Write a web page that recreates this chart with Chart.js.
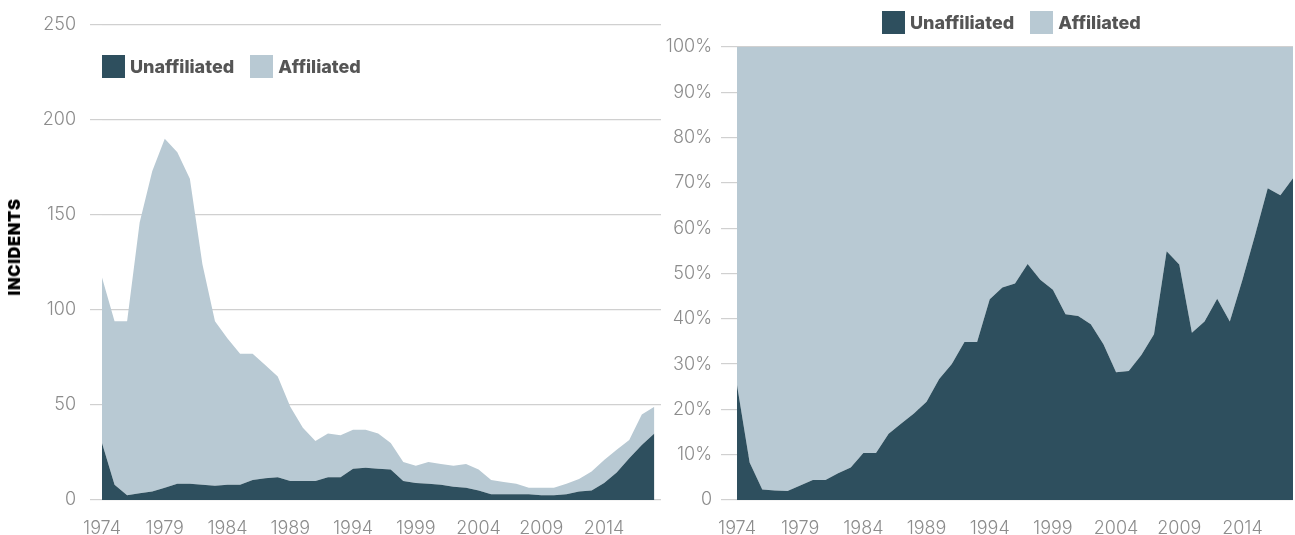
<!DOCTYPE html>
<html lang="en">
<head>
  <title>Incidents by affiliation</title>
  <script src="https://cdn.jsdelivr.net/npm/chart.js"></script>
  <style>
    body { margin: 0; background: #fff; width: 1295px; height: 535px; position: relative; overflow: hidden; }
    canvas { position: absolute; top: 0; }
    .legend { position: absolute; display: flex; align-items: center; font: 800 18px Inter, sans-serif; color: #555; }
    .legend .sw { display: inline-block; width: 23px; height: 23px; margin-right: 5px; }
    .legend .item { display: flex; align-items: center; margin-right: 16px; }
    #ytitle { position: absolute; left: 14px; top: 247px; transform: translate(-50%, -50%) rotate(-90deg);
      font: 900 16.5px Inter, sans-serif; color: #000; letter-spacing: 0.6px; white-space: nowrap; }
  </style>
</head>
<body>
  <canvas id="counts" width="670" height="535" style="left:0"></canvas>
  <canvas id="shares" width="635" height="535" style="left:660px"></canvas>

  <div id="ytitle">INCIDENTS</div>
  <div class="legend" style="left:102px; top:55px">
    <span class="item"><span class="sw" style="background:#2E4F5E"></span>Unaffiliated</span>
    <span class="item"><span class="sw" style="background:#B8C9D3"></span>Affiliated</span>
  </div>
  <div class="legend" style="left:882px; top:11px">
    <span class="item"><span class="sw" style="background:#2E4F5E"></span>Unaffiliated</span>
    <span class="item"><span class="sw" style="background:#B8C9D3"></span>Affiliated</span>
  </div>

  <script>
    const years = [];
    for (let y = 1974; y <= 2018; y++) years.push(y);
    const yearTicks = [1974, 1979, 1984, 1989, 1994, 1999, 2004, 2009, 2014];

    // incident counts per year
    const unaffiliated = [30, 8, 2.5, 3.5, 4.5, 6.5, 8.5, 8.5, 8, 7.5, 8, 8, 10.5, 11.5, 12, 10, 10, 10, 12, 12,
      16.5, 17, 16.5, 16, 10, 9, 8.5, 8, 7, 6.5, 5, 3, 3, 3, 3, 2.5, 2.5, 3, 4.5, 5, 9, 14.5, 22, 29, 35];
    const affiliated = [87, 86, 91.5, 142.5, 168.5, 183.5, 174.5, 160.5, 116, 86.5, 77, 69, 66.5, 59.5, 53, 39, 28, 21, 23, 22,
      20.5, 20, 18.5, 14, 10, 9, 11.5, 11, 11, 12.5, 11, 7.5, 6.5, 5.5, 3.5, 4, 4, 5.5, 6.5, 10, 12, 12, 9.5, 16, 14];

    // share of incidents per year, percent
    const unaffiliatedShare = [25.4, 8.3, 2.3, 2.1, 2.0, 3.2, 4.4, 4.4, 5.9, 7.2, 10.4, 10.4, 14.6, 16.9, 19.1, 21.7, 26.7, 30.0, 34.9, 34.9,
      44.3, 46.9, 47.8, 52.1, 48.6, 46.4, 41.0, 40.6, 38.8, 34.4, 28.2, 28.5, 32.0, 36.6, 54.9, 52.0, 36.9, 39.4, 44.4, 39.4,
      48.6, 58.5, 68.8, 67.3, 71.0];
    const affiliatedShare = [74.6, 91.7, 97.7, 97.9, 98.0, 96.8, 95.6, 95.6, 94.1, 92.8, 89.6, 89.6, 85.4, 83.1, 80.9, 78.3, 73.3, 70.0, 65.1, 65.1,
      55.7, 53.1, 52.2, 47.9, 51.4, 53.6, 59.0, 59.4, 61.2, 65.6, 71.8, 71.5, 68.0, 63.4, 45.1, 48.0, 63.1, 60.6, 55.6, 60.6,
      51.4, 41.5, 31.2, 32.7, 29.0];

    const DARK = '#2E4F5E';
    const LIGHT = '#B8C9D3';
    const GRID = '#d0d0d0';
    const tickFont = { family: 'Inter', size: 18, weight: 300 };

    function points(vals) {
      return years.map((y, i) => ({ x: y, y: vals[i] }));
    }

    function area(label, vals, color, fill) {
      return {
        label: label,
        data: points(vals),
        backgroundColor: color,
        borderWidth: 0,
        pointRadius: 0,
        tension: 0,
        fill: fill
      };
    }

    function xAxis(max) {
      return {
        type: 'linear',
        min: 1974,
        max: max,
        grid: { display: false, drawTicks: false },
        border: { display: false },
        afterBuildTicks: s => { s.ticks = yearTicks.map(v => ({ value: v })); },
        afterFit: s => { s.height = 35; },
        ticks: { color: '#8c8c8c', font: tickFont, padding: 18, maxRotation: 0, autoSkip: false,
          callback: v => String(v) }
      };
    }

    new Chart(document.getElementById('counts'), {
      type: 'line',
      data: {
        datasets: [
          area('Unaffiliated', unaffiliated, DARK, 'origin'),
          area('Affiliated', affiliated, LIGHT, '-1')
        ]
      },
      options: {
        responsive: false,
        animation: false,
        layout: { padding: { top: 23, right: 9, left: 0, bottom: 0 } },
        plugins: { legend: { display: false }, tooltip: { enabled: false } },
        scales: {
          x: xAxis(2018.53),
          y: {
            stacked: true,
            min: 0,
            max: 250,
            ticks: { stepSize: 50, color: '#8c8c8c', font: tickFont, padding: 14 },
            grid: { color: GRID, lineWidth: 1.2, tickLength: 12 },
            border: { display: false },
            afterFit: s => { s.width = 102; }
          }
        }
      }
    });

    new Chart(document.getElementById('shares'), {
      type: 'line',
      data: {
        datasets: [
          area('Unaffiliated', unaffiliatedShare, DARK, 'origin'),
          area('Affiliated', affiliatedShare, LIGHT, '-1')
        ]
      },
      options: {
        responsive: false,
        animation: false,
        layout: { padding: { top: 47, right: 2, left: 0, bottom: 0 } },
        plugins: { legend: { display: false }, tooltip: { enabled: false } },
        scales: {
          x: xAxis(2018),
          y: {
            stacked: true,
            min: 0,
            max: 100,
            ticks: { stepSize: 10, color: '#8c8c8c', font: tickFont, padding: 9,
              callback: v => v === 0 ? '0' : v + '%' },
            grid: { color: GRID, lineWidth: 1.2, tickLength: 16 },
            border: { display: false },
            afterFit: s => { s.width = 77; }
          }
        }
      }
    });
  </script>
</body>
</html>
